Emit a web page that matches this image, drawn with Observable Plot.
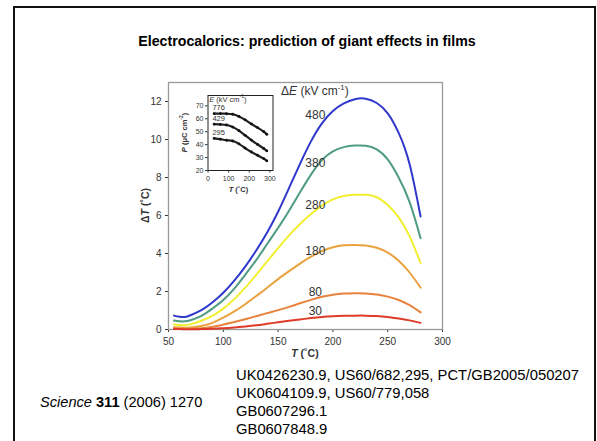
<!DOCTYPE html>
<html><head><meta charset="utf-8">
<script src="https://cdn.jsdelivr.net/npm/d3@7"></script>
<script src="https://cdn.jsdelivr.net/npm/@observablehq/plot@0.6"></script>
<style>
body{margin:0;background:#fff;}
#page{position:relative;width:597px;height:441px;overflow:hidden;font-family:Arial,"Liberation Sans",sans-serif;background:#fff;}
#border{position:absolute;left:13px;top:6px;width:583px;height:470px;border:2px solid #111;box-sizing:border-box;}
#title{position:absolute;left:17px;width:580px;top:33px;text-align:center;font-weight:bold;font-size:14.2px;line-height:16px;color:#000;}
#main{position:absolute;left:0;top:0;}
#inset{position:absolute;left:170px;top:88px;}
#ref{position:absolute;left:40px;top:393px;font-size:14.6px;line-height:18px;color:#000;}
#pat{position:absolute;left:236px;top:366px;font-size:14.8px;line-height:18px;color:#000;}
</style></head>
<body>
<div id="page">
  <div id="border"></div>
  <div id="title">Electrocalorics: prediction of giant effects in films</div>
  <div id="main"></div>
  <div id="inset"></div>
  <div id="ref"><i>Science</i> <b>311</b> (2006) 1270</div>
  <div id="pat"></div>
</div>
<script>
// ---- main chart data ----
const T = [55,60,65,70,80,90,100,110,120,130,140,150,160,170,180,190,200,210,220,230,240,250,260,270,280];
const dT480 = [0.73,0.67,0.66,0.75,1.02,1.42,1.93,2.57,3.31,4.16,5.11,6.2,7.45,8.72,9.9,10.85,11.5,11.9,12.12,12.15,11.92,11.38,10.35,8.7,5.95];
const dT380 = [0.47,0.43,0.43,0.49,0.72,1.1,1.55,2.15,2.88,3.65,4.5,5.35,6.25,7.22,8.15,8.92,9.38,9.6,9.68,9.67,9.48,8.95,8.0,6.7,4.8];
const dT280 = [0.26,0.24,0.23,0.27,0.46,0.72,1.1,1.6,2.2,2.88,3.58,4.28,4.95,5.55,6.08,6.52,6.85,7.03,7.09,7.09,6.96,6.55,5.9,4.9,3.5];
const dT180 = [0.12,0.10,0.09,0.10,0.18,0.35,0.62,0.95,1.33,1.76,2.2,2.65,3.07,3.47,3.83,4.13,4.33,4.43,4.45,4.42,4.3,4.05,3.62,3.0,2.2];
const dT80  = [0.05,0.04,0.03,0.03,0.06,0.14,0.26,0.39,0.54,0.7,0.86,1.02,1.19,1.38,1.56,1.72,1.83,1.89,1.91,1.9,1.84,1.73,1.55,1.28,0.9];
const dT30  = [0.02,0.02,0.01,0.01,0.02,0.04,0.07,0.11,0.16,0.22,0.3,0.38,0.46,0.53,0.6,0.66,0.7,0.72,0.73,0.73,0.71,0.66,0.58,0.48,0.35];
const fields = [480,380,280,180,80,30];
const seriesValues = [dT480,dT380,dT280,dT180,dT80,dT30];
const labelY = [11.3,8.78,6.56,4.11,1.95,0.94];
const labelT = 184;
const xTicks = [50,100,150,200,250,300];
const yTicks = [0,2,4,6,8,10,12];

// ---- inset data ----
const insetT = [30,60,90,120,150,180,210,240,270,285];
const P776 = [64.0,64.0,63.9,63.5,61.8,59.2,56.0,53.2,50.0,48.0];
const P429 = [55.8,55.6,55.2,53.6,50.8,47.2,43.5,40.2,37.0,35.2];
const P295 = [44.9,44.2,43.4,42.8,40.6,37.3,34.3,31.8,29.2,27.5];
const insetFields = ["776","429","295"];
const insetValues = [P776,P429,P295];
const insetXTicks = [0,100,200,300];
const insetYTicks = [20,30,40,50,60,70];

const patents = [
  "UK0426230.9, US60/682,295, PCT/GB2005/050207",
  "UK0604109.9, US60/779,058",
  "GB0607296.1",
  "GB0607848.9"
];

const colors = ["#3038cc","#4f9c80","#f2ee30","#e9a23e","#e8823c","#de3b2a"];
const FONT = 'Arial, "Liberation Sans", sans-serif';

const rows = fields.flatMap((E,i) => T.map((t,j) => ({E: String(E), T: t, dT: seriesValues[i][j]})));
const labels = fields.map((E,i) => ({E: String(E), T: labelT, y: labelY[i]}));

const chart = Plot.plot({
  width: 597, height: 360,
  marginLeft: 168, marginRight: 155, marginTop: 82, marginBottom: 31,
  style: {fontFamily: FONT, fontSize: "10px", color: "#333", background: "transparent"},
  x: {domain: [50,300], ticks: xTicks, label: null, tickSize: 3, tickPadding: 5},
  y: {domain: [0,13], ticks: yTicks, label: null, tickSize: 3, tickPadding: 4},
  color: {domain: fields.map(String), range: colors},
  marks: [
    Plot.frame({stroke: "#999", strokeWidth: 1.3}),
    Plot.line(rows, {x: "T", y: "dT", z: "E", stroke: "E", strokeWidth: 2, curve: "natural"}),
    Plot.text(labels, {x: "T", y: "y", text: "E", fill: "#333", fontSize: 12})
  ]
});
document.getElementById("main").appendChild(chart);

function rich(svg, x, y, parts, opts = {}) {
  const size = opts.size || 11;
  const t = d3.select(svg).append("text")
    .attr("x", x).attr("y", y)
    .attr("text-anchor", opts.anchor || "middle")
    .attr("dominant-baseline", "middle")
    .attr("font-family", FONT)
    .attr("font-size", size)
    .attr("font-weight", opts.weight || "normal")
    .attr("fill", opts.fill || "#222");
  if (opts.rotate) t.attr("transform", `rotate(${opts.rotate},${x},${y})`);
  for (const p of parts) {
    const s = t.append("tspan").text(p.t);
    if (p.i) s.attr("font-style", "italic");
    if (p.sup) { s.attr("font-size", size * 0.65).attr("dy", -size * 0.4); }
    if (p.down) s.attr("dy", size * 0.4);
  }
  return t;
}
const xs = chart.scale("x"), ys = chart.scale("y");
rich(chart, xs.apply(labelT), ys.apply(12.45), [{t:"Δ"},{t:"E",i:1},{t:" (kV cm"},{t:"-1",sup:1},{t:")",down:1}], {size: 12, fill: "#333"});
rich(chart, 146, ys.apply(6.5), [{t:"Δ"},{t:"T",i:1},{t:" (˚C)"}], {size: 10.5, weight: "bold", rotate: -90, fill: "#333"});
rich(chart, xs.apply(175), 354, [{t:"T",i:1},{t:" (˚C)"}], {size: 10.5, weight: "bold", fill: "#333"});

// ---- inset ----
const irows = insetFields.flatMap((E,i) => insetT.map((t,j) => ({E, T: t, P: insetValues[i][j]})));
const inset = Plot.plot({
  width: 110, height: 112,
  marginLeft: 37.5, marginRight: 7.5, marginTop: 7, marginBottom: 30,
  style: {fontFamily: FONT, fontSize: "7px", color: "#333", background: "transparent"},
  x: {domain: [0,315], ticks: insetXTicks, label: null, tickSize: 2.5, tickPadding: 3},
  y: {domain: [20,78], ticks: insetYTicks, label: null, tickSize: 2.5, tickPadding: 2},
  marks: [
    Plot.frame({fill: "white", stroke: "#222"}),
    Plot.line(irows, {x: "T", y: "P", z: "E", stroke: "#222", strokeWidth: 2.2, curve: "natural"}),
    Plot.dot(irows, {x: "T", y: "P", fill: "#111", r: 1.4})
  ]
});
document.getElementById("inset").appendChild(inset);
const ixs = inset.scale("x"), iys = inset.scale("y");
rich(inset, ixs.apply(8), iys.apply(74.5), [{t:"E",i:1},{t:" (kV cm"},{t:"-1",sup:1},{t:")",down:1}], {size: 7.5, anchor: "start", fill: "#333"});
insetFields.forEach((E,i) => {
  rich(inset, ixs.apply(24), iys.apply(insetValues[i][0] + 4), [{t:E}], {size: 7.5, anchor: "start", fill: "#333"});
});
rich(inset, 15, iys.apply(49), [{t:"P",i:1},{t:" (μC cm"},{t:"-2",sup:1},{t:")",down:1}], {size: 7.5, weight: "bold", rotate: -90, fill: "#333"});
rich(inset, ixs.apply(150), 102, [{t:"T",i:1},{t:" (˚C)"}], {size: 7.5, weight: "bold", fill: "#333"});

// ---- caption ----
d3.select("#pat").selectAll("div").data(patents).join("div").text(d => d);
</script>
</body></html>
